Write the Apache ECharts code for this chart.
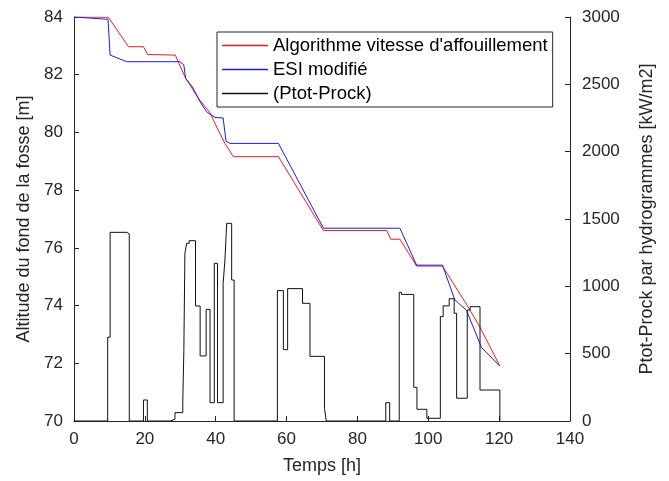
<!DOCTYPE html>
<html>
<head>
<meta charset="utf-8">
<script src="https://cdn.jsdelivr.net/npm/echarts@6/dist/echarts.min.js"></script>
<style>html,body{margin:0;padding:0;background:#fff}#c{width:669px;height:481px}</style>
</head>
<body>
<div id="c"></div>
<script>
// Algorithme vitesse d'affouillement (left axis, m)
const redT = [0, 9.7, 15.4, 19.6, 20.8, 28.6, 31.3, 35.1, 38.4, 40.7, 42.6, 45.0, 57.7, 70.4, 88.3, 89.4, 92.0, 96.7, 104.0, 111.0, 114.6, 120.2];
const redV = [84.0, 83.99, 82.97, 82.97, 82.7, 82.68, 81.93, 81.18, 80.68, 80.08, 79.62, 79.16, 79.16, 76.6, 76.6, 76.3, 76.3, 75.37, 75.37, 74.0, 73.25, 71.9];
// ESI modifié (left axis, m)
const blueT = [0, 9.6, 10.2, 14.9, 29.9, 31.0, 31.5, 33.4, 34.6, 35.6, 37.4, 39.8, 42.1, 42.9, 44.0, 57.7, 70.4, 92.0, 96.7, 104.0, 107.5, 110.8, 115.0, 120.2];
const blueV = [84.0, 83.92, 82.68, 82.45, 82.45, 82.34, 81.87, 81.58, 81.3, 81.06, 80.72, 80.52, 80.5, 79.7, 79.62, 79.62, 76.68, 76.68, 75.4, 75.4, 74.2, 73.83, 72.55, 71.9];
// (Ptot-Prock) (right axis, kW/m2), step changes
const blackT = [0, 9.5, 10.2, 14.9, 15.6, 19.6, 20.7, 27.1, 28.5, 30.7, 31.0, 31.3, 31.8, 32.5, 34.3, 35.6, 37.3, 38.4, 39.6, 40.5, 42.1, 42.6, 43.1, 44.5, 45.2, 57.4, 59.1, 60.3, 64.5, 66.6, 70.7, 71.2, 88.0, 89.1, 91.8, 92.4, 95.9, 96.8, 99.6, 103.4, 104.2, 105.9, 107.3, 108.0, 111.0, 111.8, 114.6, 120.2];
const blackV = [0, 622, 1401, 1390, 0, 156, 0, 12, 62, 143, 515, 1245, 1320, 1339, 854, 483, 829, 136, 1171, 136, 1022, 1196, 1468, 1047, 0, 968, 530, 983, 874, 480, 94, 0, 136, 0, 956, 940, 250, 87, 20, 775, 855, 908, 800, 169, 824, 849, 230, 0];

const xTicks = [0, 140, 20];
const leftTicks = [70, 84, 2];
const rightTicks = [0, 3000, 500];

const zip = (a, b) => a.map((t, i) => [t, b[i]]);
const FONT = "'Liberation Sans', Arial, sans-serif";
const AX = '#262626';

const chart = echarts.init(document.getElementById('c'));
const axisCommon = {
  axisLine: {show: true, lineStyle: {color: AX, width: 1}},
  axisTick: {show: true, inside: true, length: 5, lineStyle: {color: AX}},
  splitLine: {show: false},
  nameTextStyle: {color: AX, fontSize: 18, fontFamily: FONT}
};
const lbl = (m, extra) => Object.assign({color: AX, fontSize: 17, fontFamily: FONT, margin: m, formatter: v => String(v)}, extra || {});
chart.setOption({
  animation: false,
  backgroundColor: '#fff',
  grid: {left: 74, right: 99, top: 17, bottom: 60},
  legend: {
    left: 217, top: 32, orient: 'vertical',
    icon: 'rect', itemWidth: 46, itemHeight: 1.3, itemGap: 5,
    padding: [4, 5, 4, 5],
    borderColor: AX, borderWidth: 1,
    textStyle: {color: '#000', fontSize: 18.5, fontFamily: FONT, lineHeight: 18},
    data: ["Algorithme vitesse d'affouillement", 'ESI modifié', '(Ptot-Prock)']
  },
  xAxis: Object.assign({}, axisCommon, {
    type: 'value', min: xTicks[0], max: xTicks[1], interval: xTicks[2],
    axisLabel: lbl(10),
    name: 'Temps [h]', nameLocation: 'middle', nameGap: 36
  }),
  yAxis: [
    Object.assign({}, axisCommon, {
      type: 'value', min: leftTicks[0], max: leftTicks[1], interval: leftTicks[2],
      axisLabel: lbl(11),
      name: 'Altitude du fond de la fosse [m]', nameLocation: 'middle', nameGap: 38
    }),
    Object.assign({}, axisCommon, {
      type: 'value', position: 'right', min: rightTicks[0], max: rightTicks[1], interval: rightTicks[2],
      axisLabel: lbl(12),
      name: 'Ptot-Prock par hydrogrammes [kW/m2]', nameLocation: 'middle', nameGap: 68
    })
  ],
  series: [
    {name: "Algorithme vitesse d'affouillement", type: 'line', yAxisIndex: 0, data: zip(redT, redV),
     symbol: 'none', lineStyle: {color: '#f01c1c', width: 1}, itemStyle: {color: '#f01c1c'}},
    {name: 'ESI modifié', type: 'line', yAxisIndex: 0, data: zip(blueT, blueV),
     symbol: 'none', lineStyle: {color: '#1c1ce8', width: 1}, itemStyle: {color: '#1c1ce8'}},
    {name: '(Ptot-Prock)', type: 'line', yAxisIndex: 1, data: zip(blackT, blackV), step: 'end',
     symbol: 'none', lineStyle: {color: '#111', width: 1}, itemStyle: {color: '#111'}}
  ]
});
</script>
</body>
</html>
